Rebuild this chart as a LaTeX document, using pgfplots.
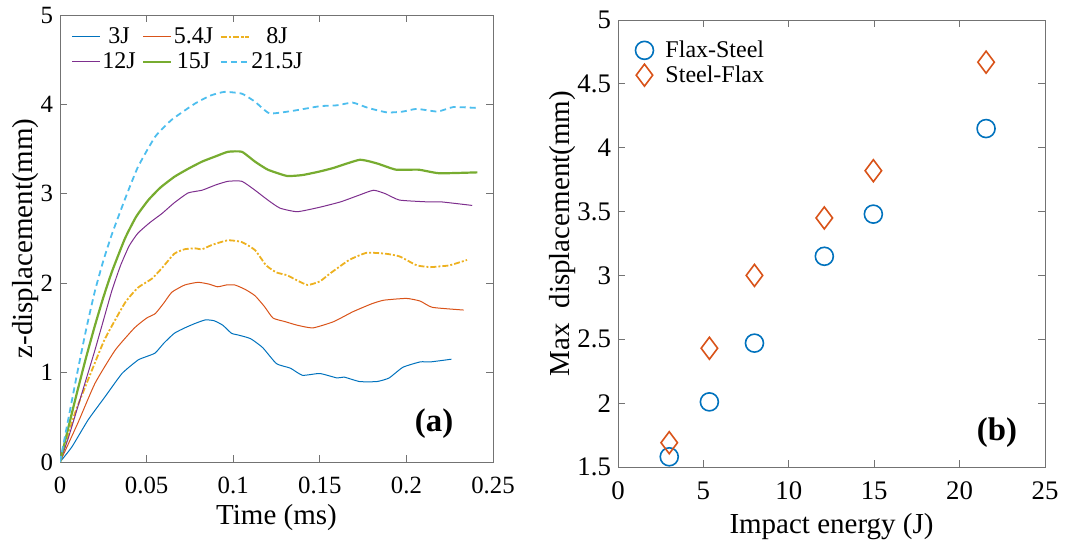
\documentclass[border=0pt]{standalone}
\usepackage{pgfplots}
\pgfplotsset{compat=1.18}
\usepackage{fontspec}
\setmainfont{Liberation Serif}
\definecolor{mblue}{rgb}{0,0.447,0.741}
\definecolor{mred}{rgb}{0.85,0.325,0.098}
\definecolor{myellow}{rgb}{0.929,0.694,0.125}
\definecolor{mpurple}{rgb}{0.494,0.184,0.556}
\definecolor{mgreen}{rgb}{0.466,0.674,0.188}
\definecolor{mcyan}{rgb}{0.301,0.745,0.933}
\pgfplotsset{
  mstyle/.style={
    scale only axis,
    axis line style={black!55},
    every tick/.style={black!55},
    tick align=inside,
    tick pos=both,
    major tick length=3.5pt,
    /pgf/number format/assume math mode=true,
    label style={font=\fontsize{14.5}{16}\selectfont},
    xticklabel style={yshift=-4pt},
    legend style={draw=none, fill=none, inner sep=0pt, font=\fontsize{12}{14}\selectfont},
  }
}
\begin{document}
\begin{tikzpicture}
\useasboundingbox (0pt,0pt) rectangle (537.5pt,271.5pt);
\begin{axis}[mstyle,
  at={(30pt,40.5pt)}, anchor=south west,
  width=216.5pt, height=223.5pt,
  xmin=0, xmax=0.25, ymin=0, ymax=5,
  tick label style={font=\fontsize{12.4}{14}\selectfont},
  xtick={0,0.05,0.1,0.15,0.2,0.25},
  xticklabels={0,0.05,0.1,0.15,0.2,0.25},
  ytick={0,1,2,3,4,5},
  yticklabels={0,1,2,3,4,5},
  xlabel={Time (ms)}, ylabel={z-displacement(mm)},
  xlabel style={yshift=1.5pt},
  ylabel style={yshift=-6pt},
  legend columns=3,
  legend style={at={(rel axis cs:0.026,0.973)}, anchor=north west,
    /tikz/every even column/.append style={column sep=2.5pt},
    row sep=3pt,
    nodes={inner xsep=0.8pt, inner ysep=0pt}},
  legend image post style={xscale=0.82},
  every axis plot/.append style={smooth, tension=0.3},
]
\addplot[mblue, line width=0.5pt] coordinates {
(0,0) (0.0069,0.17) (0.0162,0.47) (0.026,0.73) (0.0358,0.99) (0.045,1.14) (0.050,1.18)
(0.055,1.22) (0.060,1.33) (0.066,1.44) (0.072,1.50) (0.078,1.55) (0.084,1.59) (0.089,1.58)
(0.094,1.53) (0.099,1.44) (0.103,1.42) (0.110,1.38) (0.117,1.28) (0.125,1.10) (0.133,1.05)
(0.140,0.97) (0.150,0.99) (0.160,0.94) (0.164,0.95) (0.173,0.90) (0.183,0.90) (0.190,0.94)
(0.198,1.06) (0.208,1.12) (0.214,1.12) (0.226,1.15)};
\addlegendentry{3J}
\addplot[mred, line width=0.5pt] coordinates {
(0,0) (0.0104,0.44) (0.0202,0.88) (0.0318,1.25) (0.043,1.50) (0.050,1.61) (0.055,1.66)
(0.060,1.78) (0.0646,1.90) (0.072,1.98) (0.0797,2.01) (0.086,1.99) (0.091,1.96) (0.096,1.98)
(0.101,1.98) (0.107,1.93) (0.1126,1.86) (0.118,1.74) (0.123,1.61) (0.130,1.57) (0.137,1.53)
(0.146,1.50) (0.158,1.57) (0.169,1.68) (0.180,1.77) (0.187,1.81) (0.200,1.83) (0.208,1.80)
(0.215,1.73) (0.233,1.70)};
\addlegendentry{5.4J}
\addplot[myellow, line width=0.9pt, dash pattern=on 3pt off 1pt on 1pt off 1pt] coordinates {
(0,0) (0.0087,0.55) (0.0185,1.03) (0.026,1.38) (0.0375,1.78) (0.045,1.95) (0.053,2.05)
(0.0589,2.17) (0.066,2.33) (0.072,2.38) (0.078,2.39) (0.082,2.38) (0.088,2.43) (0.097,2.48)
(0.105,2.46) (0.1126,2.37) (0.119,2.20) (0.125,2.12) (0.131,2.09) (0.137,2.03) (0.143,1.98)
(0.150,2.02) (0.156,2.11) (0.167,2.26) (0.177,2.34) (0.188,2.33) (0.196,2.30) (0.206,2.20)
(0.214,2.18) (0.220,2.19) (0.225,2.20) (0.235,2.26)};
\addlegendentry{8J}
\addplot[mpurple, line width=0.5pt] coordinates {
(0,0) (0.005,0.28) (0.010,0.60) (0.015,0.92) (0.020,1.24) (0.025,1.58) (0.030,1.92)
(0.035,2.20) (0.040,2.42) (0.045,2.56) (0.052,2.68) (0.0589,2.78) (0.066,2.90) (0.074,3.01)
(0.082,3.04) (0.090,3.10) (0.097,3.14) (0.105,3.14) (0.1126,3.04) (0.120,2.93) (0.127,2.84)
(0.137,2.80) (0.150,2.85) (0.162,2.91) (0.172,2.98) (0.181,3.04) (0.188,3.00) (0.196,2.93)
(0.212,2.91) (0.220,2.91) (0.238,2.87)};
\addlegendentry{12J}
\addplot[mgreen, line width=1.1pt] coordinates {
(0,0) (0.005,0.40) (0.010,0.79) (0.015,1.165) (0.020,1.515) (0.025,1.84) (0.030,2.13)
(0.0375,2.50) (0.044,2.745) (0.051,2.93) (0.058,3.07) (0.066,3.19) (0.074,3.28) (0.082,3.36)
(0.090,3.42) (0.097,3.47) (0.105,3.47) (0.1126,3.36) (0.120,3.27) (0.131,3.20) (0.140,3.21)
(0.150,3.25) (0.158,3.29) (0.173,3.38) (0.183,3.34) (0.194,3.27) (0.207,3.27) (0.219,3.23)
(0.241,3.24)};
\addlegendentry{15J}
\addplot[mcyan, line width=0.9pt, dash pattern=on 3pt off 2pt] coordinates {
(0,0) (0.005,0.50) (0.010,1.00) (0.015,1.475) (0.020,1.90) (0.025,2.25) (0.030,2.55)
(0.0375,2.94) (0.045,3.30) (0.055,3.64) (0.0646,3.83) (0.078,4.01) (0.087,4.10) (0.095,4.14)
(0.105,4.12) (0.1126,4.03) (0.121,3.90) (0.135,3.93) (0.150,3.98) (0.160,3.99) (0.169,4.02)
(0.178,3.96) (0.189,3.91) (0.198,3.92) (0.206,3.95) (0.218,3.92) (0.227,3.97) (0.241,3.96)};
\addlegendentry{21.5J}
\node[font=\fontsize{16.4}{18}\selectfont\bfseries] at (axis cs:0.216,0.43) {(a)};
\end{axis}
\begin{axis}[mstyle,
  at={(309pt,38pt)}, anchor=south west,
  width=213.5pt, height=223.5pt,
  xmin=0, xmax=25, ymin=1.5, ymax=5,
  tick label style={font=\fontsize{13.4}{15}\selectfont},
  xtick={0,5,10,15,20,25},
  xticklabels={0,5,10,15,20,25},
  ytick={1.5,2,2.5,3,3.5,4,4.5,5},
  yticklabels={1.5,2,2.5,3,3.5,4,4.5,5},
  xlabel={Impact energy (J)}, ylabel={Max\ \ displacement(mm)},
  xlabel style={yshift=0.5pt},
  ylabel style={yshift=-6pt, xshift=5pt},
  legend style={at={(rel axis cs:0.040,0.955)}, anchor=north west,
    nodes={inner xsep=6pt, inner ysep=0pt}, row sep=2pt},
  legend cell align=left,
]
\addplot[only marks, mark=o, mark size=4.5pt, mblue, line width=0.8pt] coordinates {
(3,1.58) (5.35,2.01) (7.99,2.47) (12.08,3.15) (14.95,3.48) (21.55,4.15)};
\addlegendentry{Flax-Steel}
\addplot[only marks, mark=diamond, mark size=5.5pt, mred, line width=0.8pt] coordinates {
(3,1.69) (5.35,2.43) (7.99,3.00) (12.08,3.45) (14.95,3.82) (21.55,4.67)};
\addlegendentry{Steel-Flax}
\node[font=\fontsize{16.4}{18}\selectfont\bfseries] at (axis cs:22.19,1.77) {(b)};
\end{axis}
\end{tikzpicture}
\end{document}
